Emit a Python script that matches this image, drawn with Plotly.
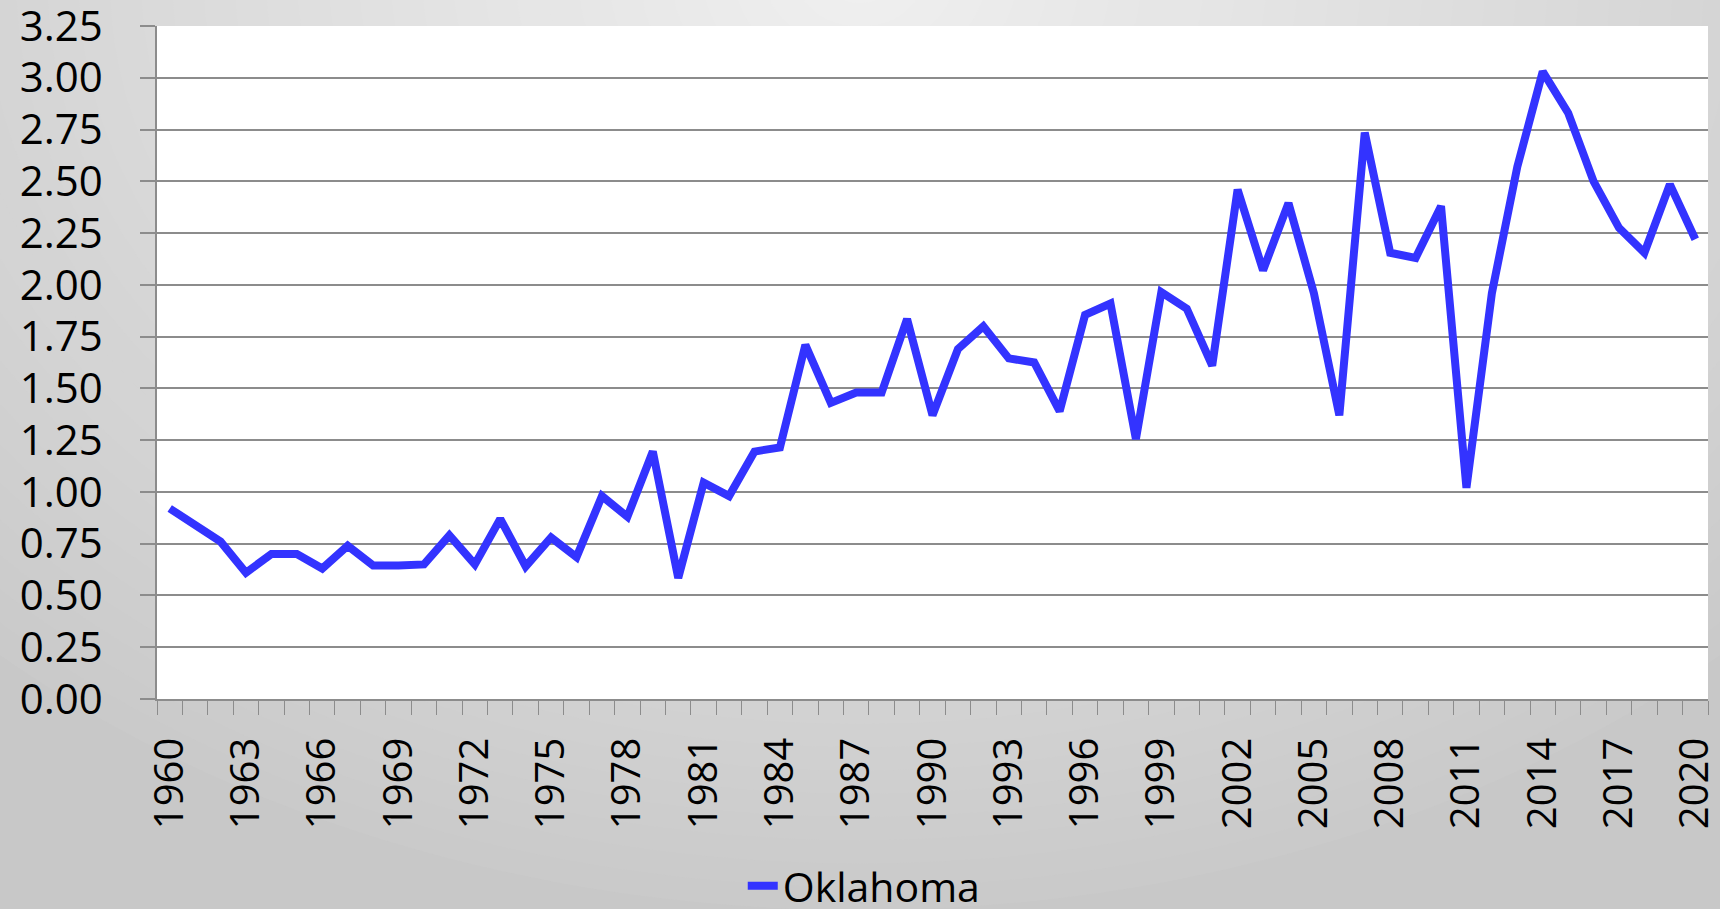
import numpy as np
import plotly.graph_objects as go

# ---- data ----
years = list(range(1960, 2021))
oklahoma = [
    0.92, 0.84, 0.76, 0.61, 0.70, 0.70, 0.63, 0.74, 0.645, 0.645,
    0.65, 0.79, 0.65, 0.87, 0.64, 0.78, 0.685, 0.98, 0.88, 1.195,
    0.585, 1.045, 0.98, 1.195, 1.215, 1.71, 1.43, 1.48, 1.48, 1.835,
    1.37, 1.69, 1.80, 1.645, 1.625, 1.39, 1.855, 1.91, 1.255, 1.965,
    1.885, 1.61, 2.46, 2.07, 2.395, 1.96, 1.37, 2.735, 2.155, 2.13,
    2.38, 1.02, 1.96, 2.57, 3.03, 2.83, 2.50, 2.275, 2.155, 2.485,
    2.22,
]
x_tick_years = [1960, 1963, 1966, 1969, 1972, 1975, 1978, 1981, 1984, 1987, 1990,
                1993, 1996, 1999, 2002, 2005, 2008, 2011, 2014, 2017, 2020]
x_tick_labels = ["1960", "1963", "1966", "1969", "1972", "1975", "1978", "1981",
                 "1984", "1987", "1990", "1993", "1996", "1999", "2002", "2005",
                 "2008", "2011", "2014", "2017", "2020"]
y_ticks = [0.00, 0.25, 0.50, 0.75, 1.00, 1.25, 1.50, 1.75, 2.00, 2.25, 2.50, 2.75, 3.00, 3.25]
series_name = "Oklahoma"

# ---- layout geometry (pixels) ----
W, H = 1720, 909
L, R, T, B = 157, 12, 26, 210
pw, ph = W - L - R, H - T - B

def px_x(p):
    return (p - L) / pw

def px_y(p):
    return (H - B - p) / ph

FONT = "Open Sans, Liberation Sans, Arial, sans-serif"
GRID = "#8c8c8c"
FS = 40

# ---- background radial-ish gradient (shapes) ----
shapes = []
shapes.append(dict(type="rect", xref="paper", yref="paper", layer="below",
                   x0=px_x(0), x1=px_x(W), y0=px_y(H), y1=px_y(0),
                   fillcolor="rgb(200,200,200)", line=dict(width=0)))
cx, cy = 860, -20
n = 40
for i in range(n):
    k = 1.0 - i / n
    rx, ry = 1250 * k, 930 * k
    c = int(round(240 - 38 * k))
    shapes.append(dict(type="circle", xref="paper", yref="paper", layer="below",
                       x0=px_x(cx - rx), x1=px_x(cx + rx),
                       y0=px_y(cy + ry), y1=px_y(cy - ry),
                       fillcolor=f"rgb({c},{c},{c})", line=dict(width=0)))
# white plot area
shapes.append(dict(type="rect", xref="paper", yref="paper", layer="below",
                   x0=0, x1=1, y0=0, y1=1, fillcolor="white", line=dict(width=0)))

fig = go.Figure()
fig.add_trace(go.Scatter(
    x=years, y=oklahoma, mode="lines", name=series_name,
    line=dict(color="#3333ff", width=8),
    showlegend=True,
))

fig.update_layout(
    width=W, height=H,
    margin=dict(l=L, r=R, t=T, b=B, pad=0, autoexpand=False),
    paper_bgcolor="rgb(210,210,210)",
    plot_bgcolor="rgba(0,0,0,0)",
    shapes=shapes,
    font=dict(family=FONT, size=FS, color="black"),
    showlegend=True,
    legend=dict(orientation="h", x=0.456, xanchor="center", y=-0.278, yanchor="middle",
                bgcolor="rgba(0,0,0,0)", font=dict(size=41, family=FONT),
                itemwidth=30),
    xaxis=dict(
        range=[1959.5, 2020.5], automargin=False,
        tickmode="array", tickvals=x_tick_years, ticktext=x_tick_labels,
        tickangle=-90, ticks="", showgrid=False, zeroline=False,
        showline=True, linecolor=GRID, linewidth=1.5,
        ticklabelstandoff=21, ticklabeloverflow="allow",
        tickfont=dict(size=FS, family=FONT, color="black"),
        minor=dict(ticks="outside", tickvals=list(np.arange(1959.5, 2021, 1.0)),
                   ticklen=14, tickcolor=GRID, tickwidth=1.2, showgrid=False),
    ),
    yaxis=dict(
        range=[0, 3.25], automargin=False,
        tickmode="array", tickvals=y_ticks, tickformat=".2f",
        ticks="outside", ticklen=15, tickcolor=GRID, tickwidth=1.5,
        showgrid=True, gridcolor=GRID, gridwidth=1.5,
        zeroline=False, showline=True, linecolor=GRID, linewidth=1.5,
        ticklabelstandoff=29, ticklabeloverflow="allow",
        tickfont=dict(size=42, family=FONT, color="black"),
    ),
)

fig.write_html("out.html",
               config={"displayModeBar": False},
               post_script="document.body.style.margin='0px';document.body.style.padding='0px';")
